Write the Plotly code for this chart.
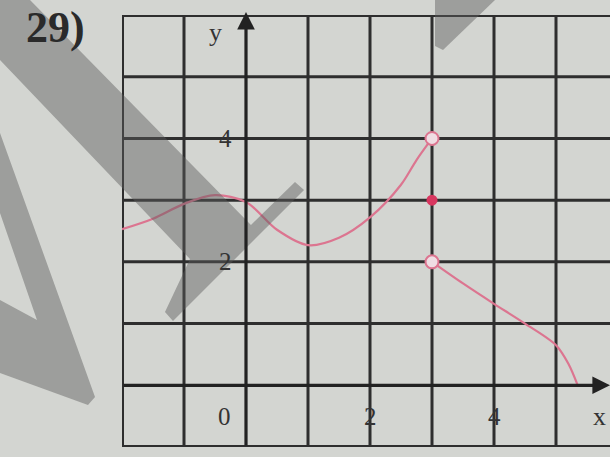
import plotly.graph_objects as go

# curve pieces
left_x = [-2, -1.5, -1, -0.5, 0, 0.5, 1, 1.5, 2, 2.5, 2.75, 3]
left_y = [2.53, 2.7, 2.94, 3.08, 2.97, 2.52, 2.27, 2.39, 2.72, 3.25, 3.65, 4.0]
right_x = [3, 3.5, 4, 4.5, 5, 5.2, 5.35]
right_y = [2.0, 1.65, 1.32, 1.0, 0.65, 0.35, 0.0]
open_x = [3, 3]
open_y = [4, 2]
dot_x = [3]
dot_y = [3]

grid_x = [-1, 1, 2, 3, 4, 5, 6]
grid_y = [1, 2, 3, 4, 5]
x_ticks = [0, 2, 4]
y_ticks = [2, 4]

W, H = 610, 457
ML, MT, MB = 122, 15, 10
unit = 62.0
x_lo, y_lo, y_hi = -2, -1, 6
x_hi = x_lo + (W - ML) / unit

bg = "#d3d5d1"
ink = "#2e2e2e"
pink = "#dc7590"

fig = go.Figure()

fig.add_trace(go.Scatter(x=left_x, y=left_y, mode="lines",
                         line=dict(color=pink, width=2.2, shape="spline", smoothing=0.9)))
fig.add_trace(go.Scatter(x=right_x, y=right_y, mode="lines",
                         line=dict(color=pink, width=2.2, shape="spline", smoothing=0.9)))
fig.add_trace(go.Scatter(x=open_x, y=open_y, mode="markers",
                         marker=dict(size=13, color="#efdde3", line=dict(color=pink, width=2))))
fig.add_trace(go.Scatter(x=dot_x, y=dot_y, mode="markers",
                         marker=dict(size=11, color="#d8365f")))

shapes = []
for gx in grid_x:
    shapes.append(dict(type="line", x0=gx, x1=gx, y0=y_lo, y1=y_hi,
                       line=dict(color=ink, width=3), layer="below"))
for gy in grid_y:
    shapes.append(dict(type="line", x0=x_lo, x1=x_hi + 1, y0=gy, y1=gy,
                       line=dict(color=ink, width=3), layer="below"))
# border of the grid
shapes.append(dict(type="line", x0=x_lo, x1=x_lo, y0=y_lo, y1=y_hi, line=dict(color=ink, width=4), layer="below"))
shapes.append(dict(type="line", x0=x_lo, x1=x_hi + 1, y0=y_hi, y1=y_hi, line=dict(color=ink, width=4), layer="below"))
shapes.append(dict(type="line", x0=x_lo, x1=x_hi + 1, y0=y_lo, y1=y_lo, line=dict(color=ink, width=4), layer="below"))
# small ticks under the x labels
for t in x_ticks[1:]:
    shapes.append(dict(type="line", x0=t, x1=t, y0=-0.95, y1=-0.8,
                       line=dict(color=ink, width=2), layer="below"))


# watermark, in pixel coords converted to paper coords
def px(pts):
    pw, ph = W - ML, H - MT - MB
    out = []
    for i, (a, b) in enumerate(pts):
        xp = (a - ML) / pw
        yp = (H - MB - b) / ph
        out.append(("M" if i == 0 else "L") + f"{xp:.4f},{yp:.4f}")
    return " ".join(out) + " Z"


wm = "rgba(90,92,90,0.45)"
for poly in [
    [(30, 0), (251, 225), (295, 182), (304, 190), (173, 321), (165, 312), (190, 259), (0, 60), (0, 0)],
    [(0, 133), (95, 397), (88, 405), (0, 373), (0, 300), (37, 320), (0, 213)],
    [(435, 0), (495, 0), (443, 50), (435, 46)],
]:
    shapes.append(dict(type="path", path=px(poly), xref="paper", yref="paper",
                       fillcolor=wm, line=dict(width=0), layer="above"))

annotations = []
# axes with arrowheads
annotations.append(dict(x=0, y=y_hi + 0.05, ax=0, ay=y_lo, xref="x", yref="y", axref="x", ayref="y",
                        showarrow=True, arrowhead=2, arrowsize=1.1, arrowwidth=3.2, arrowcolor="#222",
                        text=""))
annotations.append(dict(x=x_hi, y=0, ax=x_lo, ay=0, xref="x", yref="y", axref="x", ayref="y",
                        showarrow=True, arrowhead=2, arrowsize=1.1, arrowwidth=3.2, arrowcolor="#222",
                        text=""))

serif = "Liberation Serif, DejaVu Serif, serif"
for t in x_ticks:
    annotations.append(dict(x=t - (0.35 if t == 0 else 0), y=-0.5, xref="x", yref="y",
                            text=str(t), showarrow=False, font=dict(family=serif, size=25, color="#333")))
for t in y_ticks:
    annotations.append(dict(x=-0.33, y=t, xref="x", yref="y", text=str(t), showarrow=False,
                            font=dict(family=serif, size=25, color="#333")))
annotations.append(dict(x=-0.5, y=5.72, xref="x", yref="y", text="y", showarrow=False,
                        font=dict(family=serif, size=26, color="#333")))
annotations.append(dict(x=5.7, y=-0.5, xref="x", yref="y", text="x", showarrow=False,
                        font=dict(family=serif, size=26, color="#333")))
annotations.append(dict(x=(55 - ML) / (W - ML), y=(H - MB - 28) / (H - MT - MB), xref="paper", yref="paper",
                        xanchor="center", yanchor="middle",
                        text="<b>29)</b>", showarrow=False,
                        font=dict(family=serif, size=44, color="#2a2a2a")))

fig.update_layout(
    width=W, height=H,
    margin=dict(l=ML, r=0, t=MT, b=MB),
    paper_bgcolor=bg, plot_bgcolor=bg,
    showlegend=False,
    shapes=shapes, annotations=annotations,
    xaxis=dict(range=[x_lo, x_hi], visible=False, fixedrange=True),
    yaxis=dict(range=[y_lo, y_hi], visible=False, fixedrange=True),
)

fig.write_html("out.html", config={"displayModeBar": False},
               post_script="document.body.style.margin='0';document.body.style.overflow='hidden';")
